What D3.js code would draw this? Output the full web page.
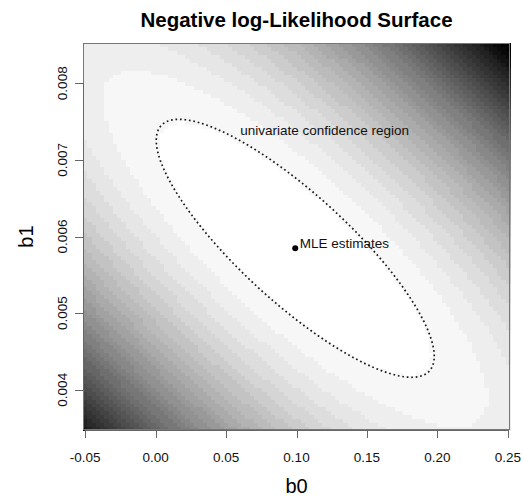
<!DOCTYPE html>
<html><head><meta charset="utf-8">
<script src="https://cdn.jsdelivr.net/npm/d3@7"></script>
<style>
html,body{margin:0;padding:0;background:#fff;}
svg text{font-family:"Liberation Sans",Arial,Helvetica,sans-serif;}
</style></head>
<body><svg id="c" width="523" height="496"></svg>
<script>
// ---- data ----
const titleText = "Negative log-Likelihood Surface";
const xLabel = "b0", yLabel = "b1";
const b0Grid = [-0.05, 0.25];          // grid extent for b0
const b1Grid = [0.0035, 0.0085];       // grid extent for b1
const gridN = 100;                      // grid points per axis
const xTicks = [-0.05, 0.00, 0.05, 0.10, 0.15, 0.20, 0.25];
const xTickLabels = ["-0.05","0.00","0.05","0.10","0.15","0.20","0.25"];
const yTicks = [0.004, 0.005, 0.006, 0.007, 0.008];
const yTickLabels = ["0.004","0.005","0.006","0.007","0.008"];
const mle = [0.0991, 0.005846];         // MLE estimates (b0, b1)
const seB = [0.09865, 0.0016835];       // half-widths of univariate confidence region
const corrB = -0.837;                   // correlation of b0, b1
const grayLevels = 31;
const labelConf = {text:"univariate confidence region", b0:0.12, b1:0.00739};
const labelMle = "MLE estimates";

// ---- layout ----
const L = 83, R = 510, T = 43, B = 430;
const svg = d3.select("#c");
const hx = (b0Grid[1]-b0Grid[0])/(gridN-1)/2;
const hy = (b1Grid[1]-b1Grid[0])/(gridN-1)/2;
const x = d3.scaleLinear().domain([b0Grid[0]-hx, b0Grid[1]+hx]).range([L, R]);
const y = d3.scaleLinear().domain([b1Grid[0]-hy, b1Grid[1]+hy]).range([B, T]);

// quadratic (Mahalanobis) surface of the negative log-likelihood
function d2(b0, b1){
  const dx = (b0-mle[0])/seB[0], dy = (b1-mle[1])/seB[1];
  return (dx*dx - 2*corrB*dx*dy + dy*dy)/(1-corrB*corrB);
}
const g0 = d3.range(gridN).map(i => b0Grid[0] + i*(b0Grid[1]-b0Grid[0])/(gridN-1));
const g1 = d3.range(gridN).map(j => b1Grid[0] + j*(b1Grid[1]-b1Grid[0])/(gridN-1));
const cells = [];
g0.forEach(a => g1.forEach(b => cells.push({a, b, v: d2(a, b)})));
const vmax = d3.max(cells, c => c.v);
const lev = d3.scaleQuantize().domain([0, vmax]).range(d3.range(grayLevels));
const col = k => { const g = Math.round(255*(1 - k/(grayLevels-1))); return `rgb(${g},${g},${g})`; };

svg.append("g").attr("shape-rendering","crispEdges")
  .selectAll("rect").data(cells).join("rect")
  .attr("x", d => x(d.a-hx)).attr("y", d => y(d.b+hy))
  .attr("width", d => x(d.a+hx)-x(d.a-hx)+0.6)
  .attr("height", d => y(d.b-hy)-y(d.b+hy)+0.6)
  .attr("fill", d => col(lev(d.v)));

// confidence ellipse
const ts = d3.range(0, 361, 2).map(t => t*Math.PI/180);
const ell = ts.map(t => [mle[0] + seB[0]*Math.cos(t),
  mle[1] + seB[1]*(corrB*Math.cos(t) + Math.sqrt(1-corrB*corrB)*Math.sin(t))]);
svg.append("path").datum(ell)
  .attr("d", d3.line().x(d => x(d[0])).y(d => y(d[1])).curve(d3.curveLinearClosed))
  .attr("fill","none").attr("stroke","#1a1a1a").attr("stroke-width",1.7)
  .attr("stroke-dasharray","1.7 2.8");

// MLE point
svg.append("circle").attr("cx", x(mle[0])).attr("cy", y(mle[1])).attr("r", 3).attr("fill","#000");
svg.append("text").attr("x", x(mle[0])+4.5).attr("y", y(mle[1])-0.5)
  .attr("font-size", 13.5).attr("fill","#111").text(labelMle);
svg.append("text").attr("x", x(labelConf.b0)).attr("y", y(labelConf.b1)+4.7)
  .attr("text-anchor","middle").attr("font-size", 13.5).attr("fill","#111").text(labelConf.text);

// box
svg.append("rect").attr("x", L+0.5).attr("y", T+0.5).attr("width", R-L-1).attr("height", B-T-1)
  .attr("fill","none").attr("stroke","#777").attr("stroke-width",1);

// x axis
const ax = svg.append("g").attr("stroke","#666");
ax.append("line").attr("x1", x(xTicks[0])).attr("x2", x(xTicks[xTicks.length-1]))
  .attr("y1", B+0.5).attr("y2", B+0.5);
ax.selectAll(".xt").data(xTicks).join("line")
  .attr("x1", d => Math.round(x(d))+0.5).attr("x2", d => Math.round(x(d))+0.5)
  .attr("y1", B).attr("y2", B+8);
svg.selectAll(".xl").data(xTicks).join("text")
  .attr("x", d => x(d)).attr("y", 461.5).attr("text-anchor","middle")
  .attr("font-size", 13.5).attr("fill","#111").text((d,i) => xTickLabels[i]);

// y axis
ax.append("line").attr("x1", L+0.5).attr("x2", L+0.5)
  .attr("y1", y(yTicks[0])).attr("y2", y(yTicks[yTicks.length-1]));
ax.selectAll(".yt").data(yTicks).join("line")
  .attr("y1", d => Math.round(y(d))+0.5).attr("y2", d => Math.round(y(d))+0.5)
  .attr("x1", L-8).attr("x2", L);
svg.selectAll(".yl").data(yTicks).join("text")
  .attr("transform", d => `translate(67,${y(d)}) rotate(-90)`)
  .attr("text-anchor","middle").attr("font-size", 13.5).attr("fill","#111")
  .text((d,i) => yTickLabels[i]);

// titles
svg.append("text").attr("x", (L+R)/2).attr("y", 26.5).attr("text-anchor","middle")
  .attr("font-size", 20.5).attr("font-weight","bold").attr("fill","#000").text(titleText);
svg.append("text").attr("x", (L+R)/2).attr("y", 493).attr("text-anchor","middle")
  .attr("font-size", 20).attr("fill","#000").text(xLabel);
svg.append("text").attr("transform", `translate(33,${(T+B)/2}) rotate(-90)`)
  .attr("text-anchor","middle").attr("font-size", 20).attr("fill","#000").text(yLabel);
</script></body></html>
